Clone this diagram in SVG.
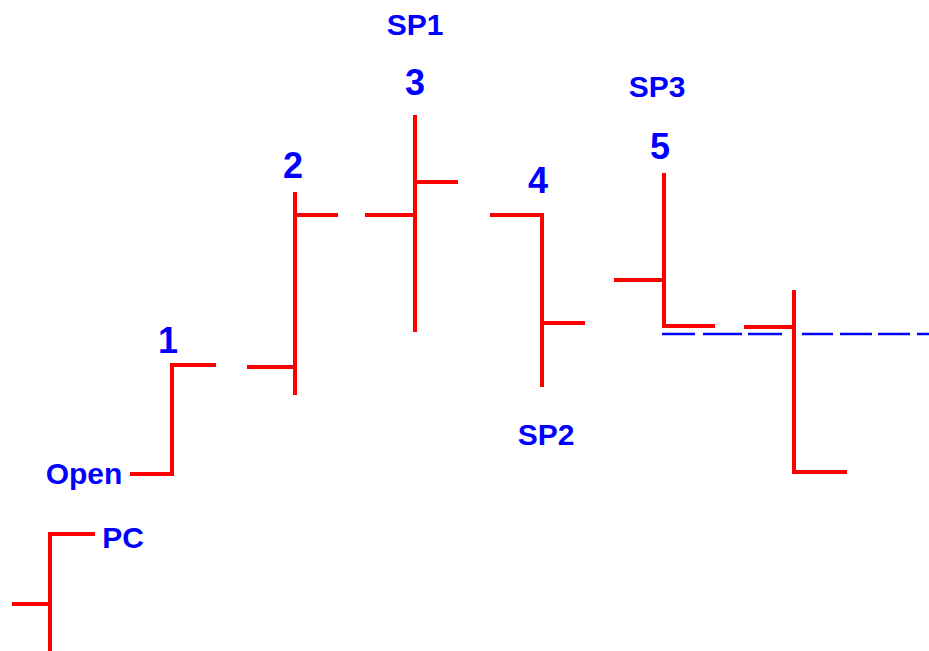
<svg xmlns="http://www.w3.org/2000/svg" width="929" height="651" viewBox="0 0 929 651">
  <style>
    .bar { fill: none; stroke: #ff0000; stroke-width: 4; stroke-linecap: butt; stroke-linejoin: miter; }
    .num { font-family: "Liberation Sans", Arial, sans-serif; font-weight: bold; font-size: 36px; fill: #0000ff; text-anchor: middle; }
    .lbl { font-family: "Liberation Sans", Arial, sans-serif; font-weight: bold; font-size: 30px; fill: #0000ff; text-anchor: middle; }
    .ref { fill: none; stroke: #0000ff; stroke-width: 2.5; }
  </style>
  <rect width="929" height="651" fill="#ffffff"/>
  <g id="connectors">
    <path class="ref" d="M662 334h33 M703 334h39 M748 334h34 M802 334h31 M840 334h32 M878 334h32 M917 334h12"/>
  </g>
  <g id="bar-pc">
    <path class="bar" d="M95 534 H50 V651 M12 604 H50"/>
    <text class="lbl" x="123" y="548">PC</text>
  </g>
  <g id="bar-1">
    <path class="bar" d="M130 474 H172 V365 H216"/>
    <text class="lbl" x="84" y="484">Open</text>
    <text class="num" x="168" y="353">1</text>
  </g>
  <g id="bar-2">
    <path class="bar" d="M295 192 V395 M247 367 H295 M295 215 H338"/>
    <text class="num" x="293" y="178">2</text>
  </g>
  <g id="bar-3">
    <path class="bar" d="M415 115 V332 M365 215 H415 M415 182 H458"/>
    <text class="num" x="415" y="95">3</text>
    <text class="lbl" x="415" y="35">SP1</text>
  </g>
  <g id="bar-4">
    <path class="bar" d="M490 215 H542 V387 M542 323 H585"/>
    <text class="num" x="538" y="193">4</text>
    <text class="lbl" x="546" y="445">SP2</text>
  </g>
  <g id="bar-5">
    <path class="bar" d="M664 173 V326 H715 M614 280 H664"/>
    <text class="num" x="660" y="159">5</text>
    <text class="lbl" x="657" y="97">SP3</text>
  </g>
  <g id="bar-6">
    <path class="bar" d="M794 290 V472 H847 M744 327 H794"/>
  </g>
</svg>
